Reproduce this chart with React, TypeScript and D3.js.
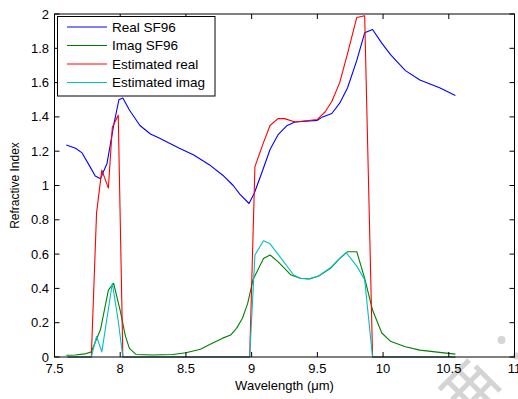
import React from "react";
import * as d3 from "d3";

const realX = [7.59, 7.66, 7.71, 7.77, 7.81, 7.85, 7.90, 7.95, 7.99, 8.02, 8.07, 8.15, 8.23, 8.30, 8.45, 8.56, 8.68, 8.78, 8.86, 8.91, 8.98, 9.02, 9.08, 9.14, 9.20, 9.27, 9.33, 9.50, 9.54, 9.61, 9.67, 9.73, 9.80, 9.86, 9.92, 9.99, 10.06, 10.17, 10.28, 10.43, 10.55];
const realY = [1.236, 1.217, 1.19, 1.11, 1.055, 1.04, 1.13, 1.35, 1.50, 1.51, 1.44, 1.35, 1.30, 1.275, 1.217, 1.178, 1.12, 1.06, 1.0, 0.95, 0.895, 0.955, 1.08, 1.21, 1.295, 1.35, 1.37, 1.38, 1.40, 1.42, 1.48, 1.57, 1.73, 1.89, 1.91, 1.83, 1.76, 1.67, 1.615, 1.57, 1.525];

const imagX = [7.59, 7.66, 7.73, 7.78, 7.85, 7.91, 7.95, 8.00, 8.04, 8.07, 8.12, 8.25, 8.40, 8.50, 8.61, 8.70, 8.78, 8.84, 8.885, 8.93, 8.97, 9.01, 9.09, 9.14, 9.20, 9.30, 9.37, 9.44, 9.51, 9.60, 9.67, 9.73, 9.80, 9.86, 9.92, 9.99, 10.06, 10.17, 10.28, 10.43, 10.55];
const imagY = [0.01, 0.012, 0.018, 0.03, 0.16, 0.39, 0.43, 0.27, 0.12, 0.05, 0.015, 0.012, 0.015, 0.025, 0.045, 0.08, 0.11, 0.128, 0.167, 0.226, 0.313, 0.45, 0.575, 0.595, 0.556, 0.478, 0.459, 0.455, 0.472, 0.517, 0.575, 0.614, 0.614, 0.459, 0.274, 0.14, 0.09, 0.06, 0.04, 0.027, 0.017];

const estRealX = [7.60, 7.78, 7.82, 7.86, 7.91, 7.94, 7.985, 8.02, 8.985, 9.025, 9.09, 9.14, 9.20, 9.25, 9.33, 9.50, 9.56, 9.61, 9.67, 9.73, 9.80, 9.86, 9.92, 10.55];
const estRealY = [0, 0, 0.84, 1.09, 0.985, 1.34, 1.41, 0, 0, 1.11, 1.25, 1.35, 1.39, 1.39, 1.37, 1.385, 1.43, 1.49, 1.60, 1.77, 1.98, 1.99, 0, 0];

const estImagX = [7.60, 7.78, 7.82, 7.86, 7.94, 7.985, 8.02, 8.985, 9.025, 9.09, 9.14, 9.20, 9.32, 9.37, 9.43, 9.51, 9.60, 9.67, 9.72, 9.80, 9.86, 9.92, 10.55];
const estImagY = [0, 0, 0.12, 0.03, 0.43, 0.21, 0, 0, 0.595, 0.678, 0.66, 0.6, 0.478, 0.459, 0.455, 0.472, 0.52, 0.575, 0.608, 0.53, 0.45, 0, 0];

const seriesNames = ["Real SF96", "Imag SF96", "Estimated real", "Estimated imag"];
const seriesColors = ["#0000ff", "#008000", "#ff0000", "#00bfbf"];

const xTicks = [7.5, 8, 8.5, 9, 9.5, 10, 10.5, 11];
const yTicks = [0, 0.2, 0.4, 0.6, 0.8, 1, 1.2, 1.4, 1.6, 1.8, 2];

const W = 518;
const H = 399;
const L = 54.5, R = 514.5, T = 14, B = 357;
const FONT = "'Liberation Sans', Arial, sans-serif";

export default function App() {
  const x = d3.scaleLinear().domain([7.5, 11]).range([L, R]);
  const y = d3.scaleLinear().domain([0, 2]).range([B, T]);
  const line = d3.line<[number, number]>().x((d) => x(d[0])).y((d) => y(d[1]));
  const series: [number[], number[]][] = [
    [realX, realY],
    [imagX, imagY],
    [estRealX, estRealY],
    [estImagX, estImagY],
  ];
  const tl = 5;
  const legX = 57.5, legY = 16.5, legW = 157.5, legH = 79.5;
  const rowY = (i: number) => legY + 10.5 + i * 18.5;

  return (
    <svg width={W} height={H} style={{ position: "absolute", left: 0, top: 0, background: "#fff" }} fontFamily={FONT}>
      <rect x={0} y={0} width={W} height={H} fill="#fff" />
      {/* watermark (behind everything) */}
      <g transform="translate(474,379) rotate(-45)" stroke="#d4d4d4" strokeWidth={5} fill="none">
        <line x1={-32} x2={10} y1={-17} y2={-17} />
        <line x1={-30} x2={12} y1={-1} y2={-1} />
        <line x1={-20} x2={12} y1={14} y2={14} />
        <line x1={-20} x2={-20} y1={-18} y2={20} />
        <line x1={-5} x2={-5} y1={-18} y2={26} />
        <line x1={10} x2={10} y1={-8} y2={27} />
      </g>
      <circle cx={501.5} cy={340} r={4} fill="#d6d6d6" />
      <circle cx={516.5} cy={356} r={3.5} fill="#d6d6d6" />
      {series.map(([xs, ys], i) => (
        <path
          key={i}
          d={line(xs.map((v, j) => [v, ys[j]] as [number, number])) || ""}
          fill="none"
          stroke={seriesColors[i]}
          strokeWidth={1.1}
          strokeLinejoin="round"
        />
      ))}
      {/* frame */}
      <rect x={L} y={T} width={R - L} height={B - T} fill="none" stroke="#000" strokeWidth={1} />
      {xTicks.map((t) => (
        <g key={"x" + t}>
          <line x1={x(t)} x2={x(t)} y1={B} y2={B - tl} stroke="#000" />
          <line x1={x(t)} x2={x(t)} y1={T} y2={T + tl} stroke="#000" />
          <text x={x(t)} y={373} textAnchor="middle" fontSize={13} fill="#000">
            {String(t)}
          </text>
        </g>
      ))}
      {yTicks.map((t) => (
        <g key={"y" + t}>
          <line x1={L} x2={L + tl} y1={y(t)} y2={y(t)} stroke="#000" />
          <line x1={R} x2={R - tl} y1={y(t)} y2={y(t)} stroke="#000" />
          <text x={49} y={y(t)} dy="0.35em" textAnchor="end" fontSize={13} fill="#000">
            {String(t)}
          </text>
        </g>
      ))}
      <text x={(L + R) / 2} y={389.5} textAnchor="middle" fontSize={13} fill="#000">
        Wavelength (μm)
      </text>
      <text
        transform={`translate(18.5, ${(T + B) / 2}) rotate(-90)`}
        textAnchor="middle"
        fontSize={12}
        fill="#000"
      >
        Refractive Index
      </text>
      {/* legend */}
      <rect x={legX} y={legY} width={legW} height={legH} fill="#fff" stroke="#000" strokeWidth={1} />
      {seriesNames.map((n, i) => (
        <g key={n}>
          <line x1={67} x2={107} y1={rowY(i)} y2={rowY(i)} stroke={seriesColors[i]} strokeWidth={1} />
          <text x={112} y={rowY(i)} dy="0.35em" fontSize={13.5} fill="#000">
            {n}
          </text>
        </g>
      ))}
    </svg>
  );
}
